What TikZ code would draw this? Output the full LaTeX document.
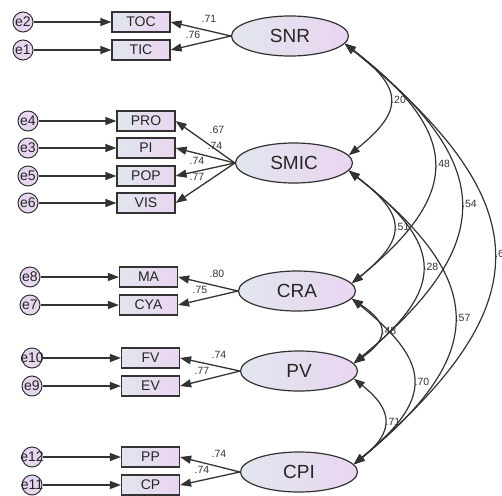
\documentclass[tikz,border=0pt]{standalone}
\usepackage{fontspec}
\setmainfont{Liberation Sans}
\usetikzlibrary{shapes.geometric,arrows.meta}
\definecolor{lineg}{HTML}{333333}
\definecolor{fillL}{HTML}{E1E6EE}
\definecolor{fillR}{HTML}{EAD5F1}
\definecolor{errfill}{HTML}{E6D6F0}
\begin{document}
\begin{tikzpicture}[x=1pt, y=1pt,
    >={Triangle[length=11pt,width=8pt]},
    latent/.style={ellipse, draw=lineg, line width=1.2pt, left color=fillL, right color=fillR,
        minimum width=117pt, minimum height=40pt, inner sep=0pt, text=black!85,
        font=\fontsize{19}{19}\selectfont},
    obs/.style={rectangle, draw=lineg, line width=1.2pt, left color=fillL, right color=fillR,
        minimum width=58pt, minimum height=20pt, inner sep=0pt, text=black!85,
        font=\fontsize{14}{14}\selectfont},
    err/.style={circle, draw=lineg, line width=1pt, fill=errfill, minimum size=20pt,
        inner sep=0pt, text=black!85, font=\fontsize{14}{14}\selectfont},
    load/.style={draw=lineg, line width=1.3pt, ->},
    cov/.style={draw=lineg, line width=1.2pt, <->},
    coef/.style={inner sep=1pt, text=black!80, font=\fontsize{10.5}{10.5}\selectfont}
]
    \useasboundingbox (0,0) rectangle (502,-495);

    % Draw the latent variables
    \node[latent] (snr) at (290,-36) {SNR};
    \node[latent] (smic) at (294,-163) {SMIC};
    \node[latent] (cra) at (297,-291) {CRA};
    \node[latent] (pv) at (299,-371) {PV};
    \node[latent] (cpi) at (299,-472) {CPI};

    % Draw indicators with their error terms
    \foreach \ind/\lab/\x/\y/\e/\ex in {
        toc/TOC/141/22/e2/23, tic/TIC/141/50/e1/23,
        pro/PRO/146/121/e4/28, pi/PI/146/148/e3/28, pop/POP/146/176/e5/28, vis/VIS/146/203/e6/28,
        ma/MA/148.5/277/e8/30, cya/CYA/148.5/305/e7/30,
        fv/FV/150.5/358/e10/32, ev/EV/150.5/386/e9/32,
        pp/PP/150.5/457/e12/32, cp/CP/150.5/485/e11/32
    } {
        \node[obs] (\ind) at (\x,-\y) {\lab};
        \node[err] (\e) at (\ex,-\y) {\makebox[0pt]{\e}};
        \draw[load] (\e) -- (\ind);
    }

    % Draw factor loadings
    \foreach \lv/\ind/\val/\lx/\ly [count=\i] in {
        snr/toc/.71/209/19, snr/tic/.76/193/35,
        smic/pro/.67/217/130, smic/pi/.74/215/146, smic/pop/.74/197/161, smic/vis/.77/197/177,
        cra/ma/.80/217/274, cra/cya/.75/200/290,
        pv/fv/.74/219/355, pv/ev/.77/202/371,
        cpi/pp/.74/219/454, cpi/cp/.74/202/470
    } {
        \draw[load] (\lv.west) -- (\ind.east);
        \node[coef] (c\i) at (\lx,-\ly) {\val};
    }

    % Draw covariances between the latent variables
    \foreach \a/\b/\dxa/\dxb/\k/\val [count=\i] in {
        snr/smic/58.8/55.6/45/.20, snr/cra/117/110.8/90/.48,
        snr/pv/152.5/144.3/120/.54, snr/cpi/196.5/188.3/160/.6,
        smic/cra/58.6/55.6/45/.51, smic/pv/96.9/91.9/75/.28, smic/cpi/139.6/134.6/110/.57,
        cra/pv/37.3/35.3/25/.48, cra/cpi/81.3/79.3/65/.70,
        pv/cpi/40.3/40.3/32/.71
    } {
        \draw[cov] (\a.-8) .. controls +(\dxa,-\k) and +(\dxb,\k) .. (\b.8)
            node[coef, pos=0.5, right] (r\i) {\val};
    }
\end{tikzpicture}
\end{document}
